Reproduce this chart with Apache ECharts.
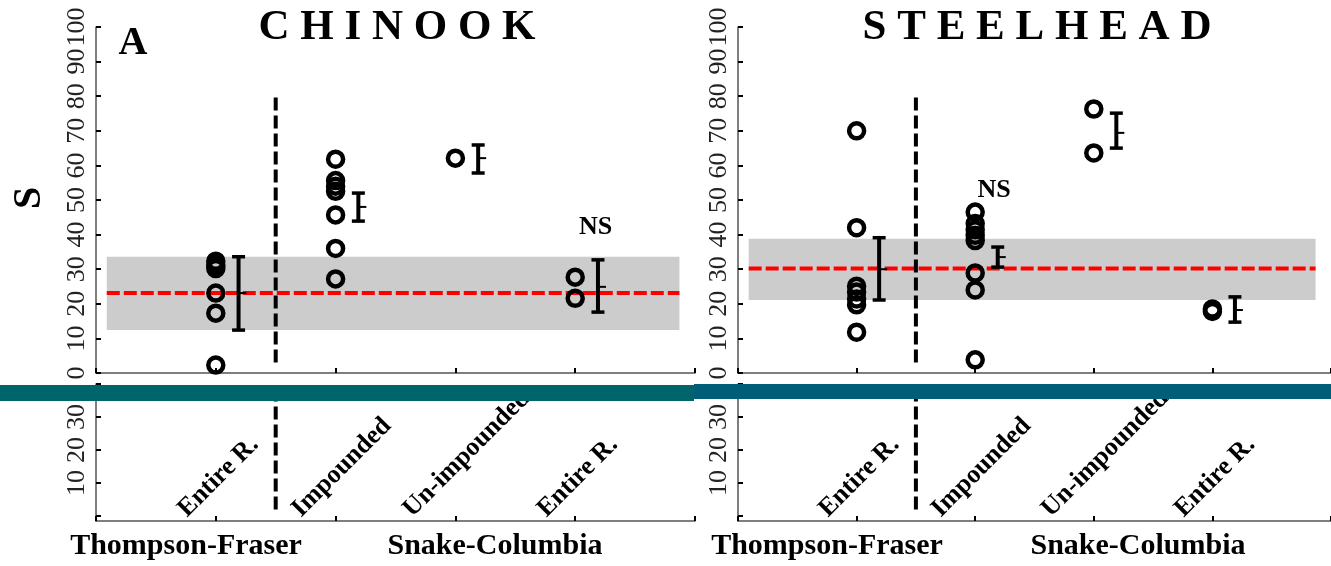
<!DOCTYPE html>
<html><head><meta charset="utf-8">
<script src="https://cdn.jsdelivr.net/npm/echarts@6/dist/echarts.min.js"></script>
<style>html,body{margin:0;padding:0;background:#fff}#c{width:1331px;height:566px}</style>
</head><body><div id="c"></div>
<script>
// ---------- data ----------
const categories = ['Entire R.', 'Impounded', 'Un-impounded', 'Entire R.'];
const regionLabels = ['Thompson-Fraser', 'Snake-Columbia'];
const panelTitles = ['C H I N O O K', 'S T E E L H E A D'];
const yTicksTop = [0, 10, 20, 30, 40, 50, 60, 70, 80, 90, 100];
const yTicksBottom = [0, 10, 20, 30, 40];
const yLabelsBottom = [10, 20, 30];

const chinookEntireTF = [32.3, 31.2, 30.2, 23.1, 17.3, 2.3];
const chinookImpounded = [61.8, 55.6, 54.0, 52.5, 45.7, 36.0, 27.2];
const chinookUnimpounded = [62.1];
const chinookEntireSC = [27.7, 21.6];
const chinookMean = [23.1, 48.0, 62.1, 24.9];
const chinookLow = [12.4, 43.9, 57.8, 17.6];
const chinookHigh = [33.6, 52.0, 65.9, 32.7];
const chinookRefMean = 23.1;
const chinookRefBand = [12.4, 33.6];

const steelEntireTF = [70.0, 42.0, 25.1, 23.4, 21.4, 19.7, 11.8];
const steelImpounded = [46.5, 43.2, 41.4, 39.8, 38.3, 28.9, 24.0, 3.8];
const steelUnimpounded = [76.3, 63.6];
const steelEntireSC = [18.5, 17.8];
const steelMean = [30.0, 33.5, 69.4, 18.2];
const steelLow = [21.1, 30.6, 65.0, 14.7];
const steelHigh = [39.1, 36.4, 75.1, 22.0];
const steelRefMean = 30.2;
const steelRefBand = [21.1, 38.8];

const nsMarks = [[4.17, 42.2], [2.16, 52.9]]; // [x, y] of "NS" text per panel (data coords)
const dividerX = 1.5;
const bandX = [0.09, 4.87];

// ---------- build ----------
const panels = [
  {pts: [chinookEntireTF, chinookImpounded, chinookUnimpounded, chinookEntireSC],
   mean: chinookMean, low: chinookLow, high: chinookHigh, ref: chinookRefMean, band: chinookRefBand},
  {pts: [steelEntireTF, steelImpounded, steelUnimpounded, steelEntireSC],
   mean: steelMean, low: steelLow, high: steelHigh, ref: steelRefMean, band: steelRefBand}
];

const serif = 'Liberation Serif';
const gridLefts = [96, 738];
const grids = [];
const xAxes = [];
const yAxes = [];
const series = [];

function xAxisCfg(gi) {
  return {type: 'value', gridIndex: gi, min: 0, max: 5, interval: 1,
    axisLine: {show: true, onZero: false, lineStyle: {color: '#555', width: 1.5}},
    axisTick: {show: true, inside: true, length: 5, lineStyle: {color: '#000', width: 2}},
    axisLabel: {show: false}, splitLine: {show: false}};
}
const yLabelStyle = {rotate: 90, fontSize: 26, fontFamily: serif, color: '#222', margin: 6};

panels.forEach((p, k) => {
  grids.push({left: gridLefts[k], top: 27, width: 599, height: 346});
});
panels.forEach((p, k) => {
  grids.push({left: gridLefts[k], top: 384, width: 599, height: 137});
});
for (let gi = 0; gi < 4; gi++) {
  xAxes.push(xAxisCfg(gi));
  if (gi < 2) {
    yAxes.push({type: 'value', gridIndex: gi, min: 0, max: 100, interval: 10,
      axisLine: {show: true, lineStyle: {color: '#555', width: 1.5}},
      axisTick: {show: true, inside: true, length: 5, lineStyle: {color: '#000', width: 2}},
      axisLabel: Object.assign({}, yLabelStyle), splitLine: {show: false}});
  } else {
    yAxes.push({type: 'value', gridIndex: gi, min: -1.5, max: 40,
      axisLine: {show: true, lineStyle: {color: '#555', width: 1.5}},
      axisTick: {show: true, inside: true, length: 5, customValues: yTicksBottom, lineStyle: {color: '#000', width: 2}},
      axisLabel: Object.assign({customValues: yLabelsBottom}, yLabelStyle), splitLine: {show: false}});
  }
}

function errorBarRender(params, api) {
  const x = api.value(0), lo = api.value(1), hi = api.value(2), m = api.value(3);
  const pl = api.coord([x, lo]), ph = api.coord([x, hi]), pm = api.coord([x, m]);
  const cap = 6.5;
  const st = {stroke: '#000', lineWidth: 4};
  return {type: 'group', children: [
    {type: 'line', shape: {x1: pl[0], y1: pl[1], x2: ph[0], y2: ph[1]}, style: st},
    {type: 'line', shape: {x1: pl[0] - cap, y1: pl[1], x2: pl[0] + cap, y2: pl[1]}, style: {stroke: '#000', lineWidth: 3.5}},
    {type: 'line', shape: {x1: ph[0] - cap, y1: ph[1], x2: ph[0] + cap, y2: ph[1]}, style: {stroke: '#000', lineWidth: 3.5}},
    {type: 'line', shape: {x1: pm[0] - 1, y1: pm[1], x2: pm[0] + 8, y2: pm[1]}, style: {stroke: '#000', lineWidth: 2}}
  ]};
}

panels.forEach((p, k) => {
  // reference band + overall mean (red dashed)
  series.push({type: 'line', xAxisIndex: k, yAxisIndex: k, z: 2, symbol: 'none', silent: true,
    data: [[bandX[0], p.ref], [bandX[1], p.ref]],
    lineStyle: {color: '#ff0000', width: 4, type: [13, 4]},
    markArea: {silent: true, itemStyle: {color: '#cccccc'},
      data: [[{coord: [bandX[0], p.band[0]]}, {coord: [bandX[1], p.band[1]]}]]}});
  // region divider (top)
  series.push({type: 'line', xAxisIndex: k, yAxisIndex: k, z: 4, symbol: 'none', silent: true,
    data: [[dividerX, 3], [dividerX, 80]],
    lineStyle: {color: '#000', width: 4, type: [13, 5]}});
  // region divider (bottom)
  series.push({type: 'line', xAxisIndex: k + 2, yAxisIndex: k + 2, z: 4, symbol: 'none', silent: true,
    data: [[dividerX, 2], [dividerX, 40]],
    lineStyle: {color: '#000', width: 4, type: [13, 5]}});
  // individual points
  const pts = [];
  p.pts.forEach((arr, i) => arr.forEach(v => pts.push([i + 1, v])));
  series.push({type: 'scatter', xAxisIndex: k, yAxisIndex: k, z: 5, symbol: 'circle', symbolSize: 15,
    itemStyle: {color: 'rgba(0,0,0,0)', borderColor: '#000', borderWidth: 4.5, opacity: 1},
    data: pts});
  // mean +/- error
  series.push({type: 'custom', xAxisIndex: k, yAxisIndex: k, z: 6, renderItem: errorBarRender,
    encode: {x: 0, y: [1, 2]},
    data: p.mean.map((m, i) => [i + 1 + 0.19, p.low[i], p.high[i], m])});
});

const chart = echarts.init(document.getElementById('c'), null, {renderer: 'canvas'});
chart.setOption({animation: false, grid: grids, xAxis: xAxes, yAxis: yAxes, series: series});

// ---------- texts / decorations ----------
const g = [];
function txt(text, x, y, size, weight, opts) {
  return Object.assign({type: 'text', x: x, y: y, z: 50, silent: true,
    style: {text: text, fontSize: size, fontWeight: weight, fontFamily: serif, fill: '#000',
      textAlign: 'center', align: 'center', textVerticalAlign: 'middle', verticalAlign: 'middle'}}, opts || {});
}
g.push(txt(panelTitles[0], 397, 28, 43, 'bold'));
g.push(txt(panelTitles[1], 1037, 28, 43, 'bold'));
g.push(txt('A', 133, 44, 40, 'bold'));
g.push(txt('S', 30, 198, 40, 'bold', {rotation: Math.PI / 2}));
nsMarks.forEach((m, k) => {
  const pt = chart.convertToPixel({gridIndex: k}, m);
  g.push(txt('NS', pt[0], pt[1], 26, 'bold'));
});
const regionCenters = [[186, 495], [827, 1138]];
regionCenters.forEach(rc => {
  g.push(txt(regionLabels[0], rc[0], 546, 30, 'bold'));
  g.push(txt(regionLabels[1], rc[1], 546, 30, 'bold'));
});

// rotated category labels on the lower axes
const ctx = document.createElement('canvas').getContext('2d');
const labSize = 26;
ctx.font = 'bold ' + labSize + 'px "' + serif + '"';
const c45 = Math.SQRT1_2;
[2, 3].forEach(gi => {
  const baseY = chart.convertToPixel({yAxisIndex: gi}, -1.5) - 2;
  categories.forEach((c, i) => {
    const tx = chart.convertToPixel({xAxisIndex: gi}, i + 1);
    const L = ctx.measureText(c).width;
    const bx = tx - 5 - 0.31 * L * c45;
    const ox = bx - 0.233 * labSize, oy = baseY - 0.233 * labSize;
    g.push({type: 'text', x: ox, y: oy, rotation: Math.PI / 4, z: 50, silent: true,
      style: {text: c, fontSize: labSize, fontWeight: 'bold', fontFamily: serif, fill: '#000',
        textAlign: 'left', align: 'left', textVerticalAlign: 'middle', verticalAlign: 'middle'}});
  });
});

// teal banner
g.push({type: 'rect', z: 100, silent: true, shape: {x: 0, y: 385, width: 694, height: 16}, style: {fill: '#00646b'}});
g.push({type: 'rect', z: 100, silent: true, shape: {x: 694, y: 384, width: 637, height: 15}, style: {fill: '#005e78'}});

chart.setOption({graphic: {elements: g}});
</script>
</body></html>
